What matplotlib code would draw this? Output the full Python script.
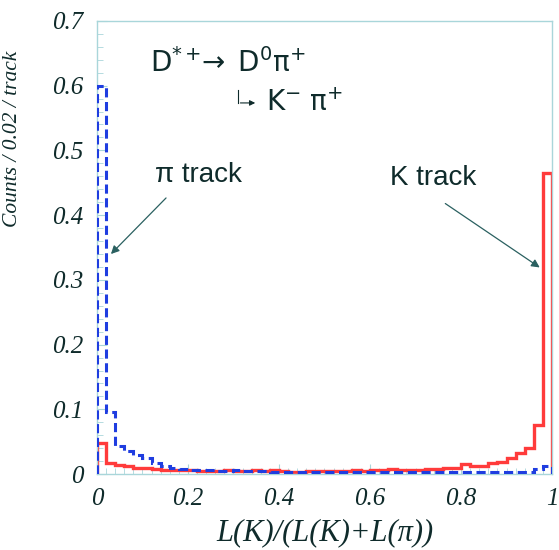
import matplotlib.pyplot as plt
import numpy as np
from matplotlib.ticker import MultipleLocator

plt.rcParams['mathtext.fontset'] = 'custom'
plt.rcParams['mathtext.rm'] = 'Liberation Sans'
plt.rcParams['mathtext.it'] = 'Liberation Sans:italic'

# bin edges 0..1 in steps of 0.02
edges = np.linspace(0, 1, 51)

# K track (red, solid)
k_track = [0.048, 0.017, 0.014, 0.012, 0.010, 0.009, 0.008, 0.007, 0.007, 0.006,
           0.006, 0.005, 0.005, 0.005, 0.006, 0.005, 0.005, 0.006, 0.005, 0.007,
           0.005, 0.004, 0.004, 0.005, 0.005, 0.005, 0.005, 0.005, 0.006, 0.005,
           0.006, 0.006, 0.008, 0.007, 0.006, 0.007, 0.008, 0.008, 0.009, 0.010,
           0.016, 0.012, 0.012, 0.017, 0.018, 0.025, 0.032, 0.041, 0.076, 0.465]

# pi track (blue, dashed)
pi_track = [0.600, 0.096, 0.043, 0.035, 0.030, 0.025, 0.017, 0.012, 0.009, 0.008,
            0.007, 0.006, 0.006, 0.005, 0.005, 0.006, 0.005, 0.005, 0.005, 0.004,
            0.004, 0.004, 0.003, 0.003, 0.003, 0.004, 0.003, 0.003, 0.003, 0.004,
            0.003, 0.003, 0.004, 0.003, 0.003, 0.003, 0.003, 0.004, 0.003, 0.003,
            0.004, 0.003, 0.004, 0.003, 0.004, 0.004, 0.004, 0.004, 0.008, 0.012]

txt = '#0f2b2b'
frame = '#a9d6da'

fig = plt.figure(figsize=(5.59, 5.5), dpi=100)
ax = fig.add_axes([0.1735, 0.138, 0.814, 0.824])

ax.stairs(pi_track, edges, color='#1f3de0', lw=2.2, ls=(0, (3, 1.5)), zorder=3)
ax.stairs(k_track, edges, color='#ff3b3b', lw=2.4, zorder=2)

ax.set_xlim(0, 1)
ax.set_ylim(0, 0.7)
ax.set_xticks([0, 0.2, 0.4, 0.6, 0.8, 1.0])
ax.set_xticklabels(['0', '0.2', '0.4', '0.6', '0.8', '1'])
ax.set_yticks([0, 0.1, 0.2, 0.3, 0.4, 0.5, 0.6, 0.7])
ax.set_yticklabels(['0', '0.1', '0.2', '0.3', '0.4', '0.5', '0.6', '0.7'])
ax.xaxis.set_minor_locator(MultipleLocator(0.02))
ax.yaxis.set_minor_locator(MultipleLocator(0.02))
ax.tick_params(which='both', direction='in', color=frame, labelcolor=txt,
               labelsize=18, pad=10)
ax.tick_params(which='major', length=7)
ax.tick_params(which='minor', length=4)
for lab in ax.get_xticklabels() + ax.get_yticklabels():
    lab.set_fontfamily('Liberation Serif')
    lab.set_fontstyle('italic')
for s in ax.spines.values():
    s.set_color(frame)
    s.set_linewidth(1.0)

ax.set_xlabel('L(K)/(L(K)+L(\u03c0))', fontfamily='Liberation Serif',
              fontstyle='italic', fontsize=22, color=txt, labelpad=6)
ax.set_ylabel('Counts / 0.02 / track', fontfamily='Liberation Serif',
              fontstyle='italic', fontsize=15.5, color=txt, labelpad=4)
ax.yaxis.set_label_coords(-0.165, 0.74)


def af(px, py):
    return ((px - 97) / 455, (474 - py) / 453)


tr = ax.transAxes
ax.text(*af(150, 63), r'$\mathregular{D^{*+}\!\!\rightarrow\ D^{0}\pi^{+}}$',
        transform=tr, fontsize=20, color=txt, va='center', ha='left')
ax.text(*af(266, 103), r'$\mathregular{K^{-}\ \pi^{+}}$', transform=tr, fontsize=20,
        color=txt, va='center', ha='left')
ax.plot([af(238, 90)[0], af(238, 103)[0]], [af(238, 90)[1], af(238, 103)[1]],
        transform=tr, color=txt, lw=0.8)
ax.annotate('', xy=af(258, 103), xytext=af(237.6, 103), xycoords=tr, textcoords=tr,
            arrowprops=dict(arrowstyle='-|>', color=txt, lw=0.8, mutation_scale=8))

ax.text(*af(155, 175), '\u03c0 track', transform=tr, fontsize=20, color=txt,
        va='center', ha='left', fontfamily='Liberation Sans')
ax.text(*af(390, 178), 'K track', transform=tr, fontsize=20, color=txt,
        va='center', ha='left', fontfamily='Liberation Sans')
ax.annotate('', xy=af(109, 256), xytext=af(168, 196), xycoords=tr, textcoords=tr,
            arrowprops=dict(arrowstyle='-|>', color='#2a6060', lw=0.9, mutation_scale=12))
ax.annotate('', xy=af(542, 269), xytext=af(443, 202), xycoords=tr, textcoords=tr,
            arrowprops=dict(arrowstyle='-|>', color='#2a6060', lw=0.9, mutation_scale=12))

fig.savefig('out.png', dpi=100)
